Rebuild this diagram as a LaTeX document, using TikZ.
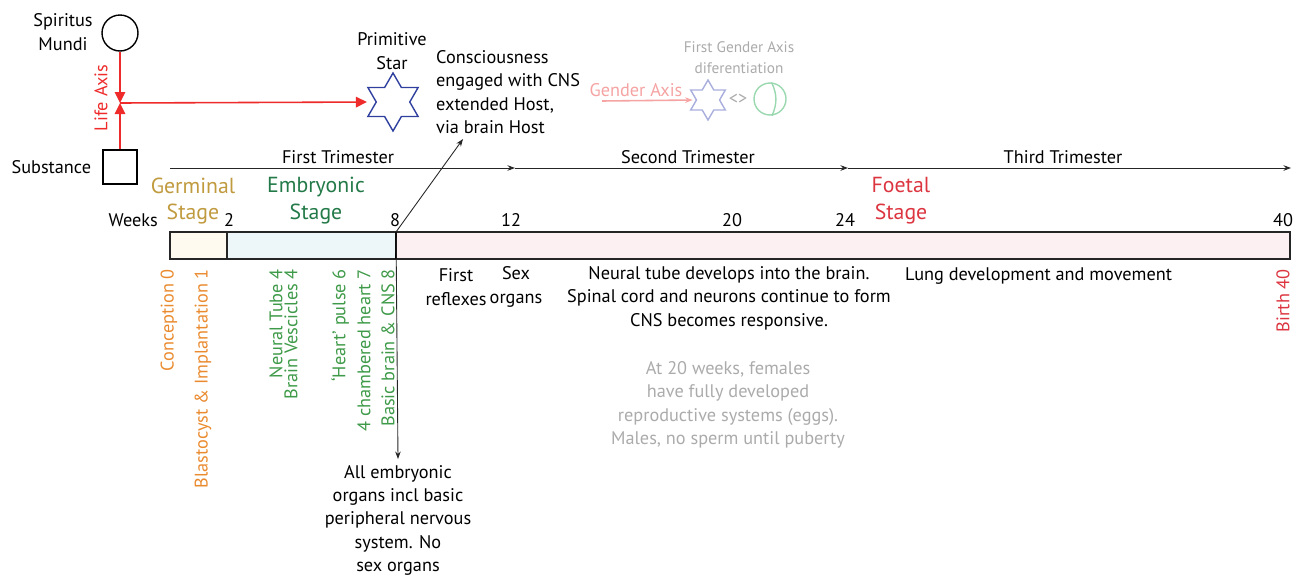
\documentclass[tikz,border=0pt]{standalone}
\usepackage{fontspec}
\setmainfont{PT Sans}
\usetikzlibrary{arrows.meta,positioning,shapes.geometric}
\definecolor{lifered}{HTML}{EE2A2A}
\definecolor{starblue}{HTML}{2E3F9E}
\definecolor{germgold}{HTML}{C09A3E}
\definecolor{embgreen}{HTML}{237A48}
\definecolor{notegreen}{HTML}{3E9A48}
\definecolor{concorange}{HTML}{EA8A2E}
\definecolor{foetred}{HTML}{DC3540}
\definecolor{fadegray}{HTML}{ABABAB}
\definecolor{fadepink}{HTML}{F5A3A3}
\definecolor{fadeblue}{HTML}{A9AEDC}
\definecolor{fadegreen}{HTML}{9AD8B0}
\definecolor{germfill}{HTML}{FFFAF0}
\definecolor{embfill}{HTML}{EDF7FA}
\definecolor{foetfill}{HTML}{FDF0F2}

\begin{document}
\begin{tikzpicture}[
    x=0.02cm, y=-0.02cm,
    font=\fontsize{10.4}{13.3}\selectfont,
    >={Stealth[length=1.5mm, width=1.1mm]},
    fine/.style={draw=black!85, line width=0.5pt},
    lifeax/.style={draw=lifered, line width=0.9pt, >={Triangle[length=2.2mm, width=2.1mm]}},
    barline/.style={draw=black!85, line width=0.9pt},
    star6/.style={star, star points=6, star point ratio=1.73, inner sep=0, line width=0.8pt},
    vlabel/.style={rotate=90, anchor=east, inner sep=1pt},
    stagelbl/.style={font=\fontsize{12.4}{15.3}\selectfont, align=center},
    small/.style={font=\fontsize{8.7}{11.9}\selectfont, align=center},
]
    \useasboundingbox (0,0) rectangle (1297,575);

    % ---------------------------------------------------------------
    % Life axis
    % ---------------------------------------------------------------
    \node[circle, draw, line width=0.8pt, minimum size=0.72cm, inner sep=0] (mundi) at (120,33) {};
    \node[align=center] (mundi_lbl) at (63,32) {Spiritus\\Mundi};
    \node[draw, line width=0.8pt, minimum size=0.68cm, inner sep=0] (subst) at (120,167) {};
    \node[left=0.1cm of subst] (subst_lbl) {Substance};
    \coordinate (lifejoin) at (120,103);
    \draw[lifeax, ->] (mundi.south) -- (lifejoin);
    \draw[lifeax, ->] (subst.north) -- (lifejoin);
    \node[rotate=90, text=lifered] (life_lbl) at (101,98) {Life Axis};

    \node[star6, draw=starblue, minimum size=1.16cm] (primstar) at (393,102) {};
    \node[align=center] (primstar_lbl) at (392,51) {Primitive\\Star};
    \draw[lifeax, ->, shorten >=0.17cm] (lifejoin) -- (primstar.west);

    \node[align=left, anchor=west] (conscious) at (430,92)
        {Consciousness\\engaged with CNS\\extended Host,\\via brain Host};

    % gender axis (faded)
    \node[text=fadepink] (gender_lbl) at (636,90) {Gender Axis};
    \coordinate (gender_start) at (602,101);
    \node[star6, draw=fadeblue, minimum size=0.8cm] (gstar) at (708,100) {};
    \draw[draw=fadepink, line width=0.9pt, ->, shorten >=0.06cm] (gender_start) -- (gstar.west);
    \node[text=fadegray, inner sep=1pt] (gneq) at (738,99) {<>};
    \node[circle, draw=fadegreen, line width=0.8pt, minimum size=0.64cm, inner sep=0] (gcirc) at (770,99) {};
    \draw[draw=fadegreen, line width=0.8pt] ([xshift=0.03cm]gcirc.north) to[bend left=25] ([xshift=0.04cm]gcirc.south);
    \node[small, text=fadegray] (gfirst) at (739,58) {First Gender Axis\\diferentiation};

    % ---------------------------------------------------------------
    % Trimesters
    % ---------------------------------------------------------------
    \coordinate (tri0) at (170,168);
    \coordinate (tri1) at (515,168);
    \coordinate (tri2) at (848,168);
    \coordinate (tri3) at (1291,168);
    \draw[fine, ->] (tri0) -- (tri1);
    \draw[fine, ->] (tri1) -- (tri2);
    \draw[fine, ->] (tri2) -- (tri3);
    \node (tri_first) at (338,157) {First Trimester};
    \node (tri_second) at (688,157) {Second Trimester};
    \node (tri_third) at (1063,157) {Third Trimester};

    % ---------------------------------------------------------------
    % Stages and weeks bar
    % ---------------------------------------------------------------
    \node[stagelbl, text=germgold] (germ_lbl) at (193,201) {Germinal\\Stage};
    \node[stagelbl, text=embgreen] (emb_lbl) at (316,201) {Embryonic\\Stage};
    \node[stagelbl, text=foetred] (foet_lbl) at (901,201) {Foetal\\Stage};

    \filldraw[barline, fill=germfill] (170,232) rectangle (227,259);
    \filldraw[barline, fill=embfill] (227,232) rectangle (396,259);
    \filldraw[barline, fill=foetfill] (396,232) rectangle (1290,259);
    \draw[line width=1.6pt] (396,232) -- (396,259);

    \node[anchor=east] (weeks) at (164,220) {Weeks};
    \foreach \wk/\xx in {2/229, 8/395, 12/511, 20/732, 24/845, 40/1283}
        \node (wk\wk) at (\xx,220) {\wk};

    % week 8 connectors
    \coordinate (wk8top) at (396,232);
    \coordinate (hostpt) at (463,139);
    \draw[fine, ->] (wk8top) -- (hostpt);
    \node[align=center, anchor=north] (allemb) at (398,459)
        {All embryonic\\organs incl basic\\peripheral nervous\\system. No\\sex organs};
    \draw[fine, ->] (wk8top) -- (allemb.north);

    % ---------------------------------------------------------------
    % Milestones
    % ---------------------------------------------------------------
    \node[vlabel, text=concorange] (conc) at (169,267) {Conception 0};
    \node[vlabel, text=concorange] (blast) at (203,267) {Blastocyst \& Implantation 1};
    \node[vlabel, text=notegreen] (ntube) at (276,267) {Neural Tube 4};
    \node[vlabel, text=notegreen] (bves) at (291,267) {Brain Vescicles 4};
    \node[vlabel, text=notegreen] (heart) at (340,267) {‘Heart’ pulse 6};
    \node[vlabel, text=notegreen] (cheart) at (364,267) {4 chambered heart 7};
    \node[vlabel, text=notegreen] (bbrain) at (388,267) {Basic brain \& CNS 8};
    \node[vlabel, text=foetred] (birth) at (1283,267) {Birth 40};

    \node[align=center] (reflex) at (456,287) {First\\reflexes};
    \node[align=center] (sexorg) at (516,287) {Sex\\organs};
    \node[align=center] (neural) at (729,298)
        {Neural tube develops into the brain.\\Spinal cord and neurons continue to form\\CNS becomes responsive.};
    \node[anchor=west] (lung) at (899,276) {Lung development and movement};
    \node[align=center, text=fadegray] (atwenty) at (728,405)
        {At 20 weeks, females\\have fully developed\\reproductive systems (eggs).\\Males, no sperm until puberty};

\end{tikzpicture}
\end{document}
